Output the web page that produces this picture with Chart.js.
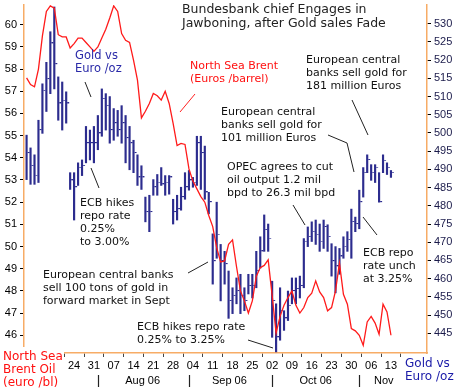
<!DOCTYPE html>
<html><head><meta charset="utf-8">
<script src="https://cdn.jsdelivr.net/npm/chart.js@4"></script>
<style>html,body{margin:0;padding:0;background:#fff}</style>
</head><body>
<canvas id="c" width="464" height="391" style="display:block"></canvas>
<script>
// ---- data ----
const firstDay = -12; // trading-day index of first bar (0 = Mon 24 Jul 2006)
const goldHigh = [499.4,495.9,494.0,503.5,513.5,519.4,527.8,534.6,515.4,514.0,511.3,489.1,
 489.1,491.8,492.6,501.8,500.8,501.8,504.8,512.1,510.8,510.0,506.7,506.2,507.5,504.8,501.8,498.0,494.0,491.0,
 482.4,482.9,487.2,488.6,490.5,488.3,488.3,481.8,482.9,485.1,489.1,489.7,487.8,499.1,499.1,496.4,483.7,
 472.3,481.0,469.4,467.5,462.1,457.5,460.2,461.2,457.5,461.2,461.2,467.5,471.5,477.5,475.0,
 459.3,453.1,457.5,451.2,456.6,460.2,460.2,460.7,471.0,474.2,475.6,476.1,475.0,476.1,474.8,
 469.6,468.8,468.3,471.5,472.9,479.1,476.9,484.3,490.5,494.0,491.3,491.3,489.1,494.0,491.8,489.7];
const goldLow = [487.2,485.9,485.9,486.4,499.9,505.9,510.8,512.1,503.5,500.8,502.7,484.5,
 476.1,485.6,488.3,491.8,492.6,491.8,495.4,499.1,500.8,497.2,498.0,499.1,497.2,491.8,489.9,489.1,485.6,484.5,
 475.6,472.9,482.9,482.9,485.6,482.9,483.2,475.0,476.1,478.8,481.8,484.3,485.1,485.6,484.5,481.8,477.8,
 458.5,465.6,453.9,458.5,449.1,450.4,453.1,450.4,451.2,455.8,454.7,457.5,462.9,467.5,467.5,
 443.9,439.9,443.1,445.8,448.5,453.1,453.1,454.7,457.5,468.8,470.2,469.4,467.5,468.3,467.5,
 460.7,456.1,461.2,465.6,467.5,465.6,472.9,473.7,482.4,489.1,487.0,486.4,481.0,489.1,488.6,487.8];
const goldClose = [494.5,491.0,488.3,500.8,511.6,514.8,524.6,518.9,508.1,508.9,508.1,487.0,
 485.1,490.5,491.0,497.2,497.2,497.2,499.9,509.4,507.5,500.8,502.7,500.8,502.7,498.6,497.2,494.5,487.8,487.8,
 478.3,478.3,485.1,486.4,485.9,486.4,487.8,478.3,479.1,482.4,485.1,487.0,486.4,497.2,494.5,483.7,481.0,
 464.8,472.1,464.8,464.0,453.9,455.3,456.6,455.3,453.9,458.0,458.0,462.1,467.5,473.4,471.0,
 453.9,443.9,451.2,449.1,452.6,456.6,457.2,458.0,470.2,471.5,472.9,472.1,470.2,474.2,471.5,
 464.8,463.4,466.1,468.8,470.7,475.6,475.0,481.0,489.1,492.6,489.1,490.5,481.0,492.4,490.5,489.1];
const brent = [57.6,57.3,57.2,58.0,59.5,60.6,60.85,60.75,59.55,59.45,59.45,58.95,
 59.15,59.4,59.4,59.2,59.0,58.8,59.0,59.4,59.8,60.3,60.85,60.6,59.6,59.3,59.2,58.4,57.5,55.8,
 56.1,56.45,56.9,56.8,56.6,57.0,56.45,55.55,54.55,54.65,54.6,53.5,52.95,52.6,52.25,52.0,51.4,
 50.9,49.95,49.3,49.35,50.1,50.3,49.1,48.0,47.55,47.0,47.55,48.65,49.05,49.15,49.4,
 47.8,46.1,46.85,47.35,47.7,48.0,47.35,47.0,47.25,47.7,47.9,48.45,47.95,47.7,47.1,
 47.25,48.0,49.25,47.85,47.4,46.3,46.2,46.0,45.55,46.6,46.85,46.55,46.05,47.4,47.05,46.0];
const weekIdx = [0,5,10,15,20,25,30,35,40,45,50,55,60,65,70,75,80];
const weekLabels = ['24','31','07','14','21','28','04','11','18','25','02','09','16','23','30','06','13'];
const monthNames = ['Aug 06','Sep 06','Oct 06','Nov'];
const monthStart = [6,29,50,72];
const monthMid = [17.3,39.2,61,78.2];
const leftTicks = [46,47,48,49,50,51,52,53,54,55,56,57,58,59,60];
const rightTicks = [445,450,455,460,465,470,475,480,485,490,495,500,505,510,515,520,525,530];

// ---- build ----
const days = goldHigh.map((_, k) => firstDay + k);
const barData = days.map((d, k) => ({x: d, y: [goldLow[k], goldHigh[k]]}));
const closeData = days.map((d, k) => ({x: d, y: goldClose[k]}));
const brentData = days.map((d, k) => ({x: d, y: brent[k]}));

const BLUE = '#2c2c8e';
const ORANGE = '#f7ac66';
const tickImg = document.createElement('canvas');
tickImg.width = 8; tickImg.height = 2;
(function(){const c = tickImg.getContext('2d'); c.fillStyle = BLUE; c.fillRect(5,0,2,1);})();

function zeroPad(s){ s.paddingTop=0; s.paddingBottom=0; s.paddingLeft=0; s.paddingRight=0; }

const annot = {
  id: 'annot',
  afterDraw(chart) {
    const ctx = chart.ctx, xs = chart.scales.x;
    ctx.save();
    ctx.fillStyle = '#fff';
    ctx.fillRect(0, 347, 64, 44);
    ctx.strokeStyle = '#222'; ctx.lineWidth = 1.2;
    monthStart.forEach(m => {
      const px = Math.round(xs.getPixelForValue(m)) + 0.5;
      ctx.beginPath(); ctx.moveTo(px, 375); ctx.lineTo(px, 387); ctx.stroke();
    });
    ctx.fillStyle = '#000'; ctx.font = '11px "Liberation Sans"';
    ctx.textAlign = 'center'; ctx.textBaseline = 'middle';
    monthNames.forEach((n, k) => ctx.fillText(n, xs.getPixelForValue(monthMid[k]), 381));
    ctx.textAlign = 'left';
    const blocks = [
      [['Bundesbank chief Engages in','Jawboning, after Gold sales Fade'], 182, 10, 14, '#222', '12.5px "DejaVu Sans"'],
      [['Gold vs','Euro /oz'], 75, 56, 13.5, '#2a2aa8', '11.5px "DejaVu Sans"'],
      [['North Sea Brent','(Euros /barrel)'], 190, 66, 13.5, '#ff1010', '11px "DejaVu Sans"'],
      [['European central','banks sell gold for','181 million Euros'], 306, 60, 13, '#111', '11px "DejaVu Sans"'],
      [['European central','banks sell gold for','101 million Euros'], 221, 112, 13, '#111', '11px "DejaVu Sans"'],
      [['OPEC agrees to cut','oil output 1.2 mil','bpd to 26.3 mil bpd'], 227, 167, 13, '#111', '11px "DejaVu Sans"'],
      [['ECB hikes','repo rate','0.25%','to 3.00%'], 80, 203, 13, '#111', '11px "DejaVu Sans"'],
      [['European central banks','sell 100 tons of gold in','forward market in Sept'], 43, 275, 13, '#111', '11px "DejaVu Sans"'],
      [['ECB hikes repo rate','0.25% to 3.25%'], 137, 327, 13, '#111', '11px "DejaVu Sans"'],
      [['ECB repo','rate unch','at 3.25%'], 363, 253, 13, '#111', '11px "DejaVu Sans"'],
      [['North Sea','Brent Oil','(euro /bl)'], 3, 357, 13, '#ff1010', '12px "DejaVu Sans"'],
      [['Gold vs','Euro /oz'], 405, 364, 13, '#1a1aa8', '12px "DejaVu Sans"']
    ];
    blocks.forEach(([lines, x, y, lh, col, font]) => {
      ctx.fillStyle = col; ctx.font = font;
      lines.forEach((t, i) => ctx.fillText(t, x, y + i * lh));
    });
    const leaders = [
      [[[85,82],[91,97]], '#222'],
      [[[195,94],[180,112]], '#ff2020'],
      [[[352,100],[368,135]], '#222'],
      [[[328,135],[347,143],[354,172]], '#222'],
      [[[293,205],[305,225]], '#222'],
      [[[91,168],[99,188]], '#222'],
      [[[188,273],[208,262]], '#222'],
      [[[248,340],[273,348]], '#222'],
      [[[363,217],[377,235]], '#222']
    ];
    ctx.lineWidth = 1;
    leaders.forEach(([pts, col]) => {
      ctx.strokeStyle = col; ctx.beginPath();
      pts.forEach((p, i) => i ? ctx.lineTo(p[0], p[1]) : ctx.moveTo(p[0], p[1]));
      ctx.stroke();
    });
    ctx.restore();
  }
};

new Chart(document.getElementById('c'), {
  type: 'bar',
  data: {
    datasets: [
      {type: 'line', label: 'Brent', data: brentData, yAxisID: 'yL', borderColor: '#ff1a1a',
       borderWidth: 1.3, pointRadius: 0, tension: 0, order: 0},
      {type: 'bar', label: 'Gold range', data: barData, yAxisID: 'yR', backgroundColor: BLUE,
       barThickness: 1.5, maxBarThickness: 1.5, borderWidth: 0, order: 1},
      {type: 'line', label: 'Gold close', data: closeData, yAxisID: 'yR', showLine: false,
       pointStyle: tickImg, pointRadius: 3, order: 1}
    ]
  },
  options: {
    responsive: false, animation: false, devicePixelRatio: 1,
    layout: {padding: 0},
    plugins: {legend: {display: false}, tooltip: {enabled: false}},
    scales: {
      x: {type: 'linear', position: 'bottom', min: -12.65, max: 89.1, offset: false,
        border: {color: ORANGE, width: 1.5},
        grid: {drawOnChartArea: false, drawTicks: true, tickLength: 4, color: '#444'},
        ticks: {autoSkip: false, maxRotation: 0, padding: 2, color: '#000',
          font: {family: 'Liberation Sans', size: 11},
          callback: v => { const k = weekIdx.indexOf(v); return k >= 0 ? weekLabels[k] : ''; }},
        afterBuildTicks: s => { s.ticks = weekIdx.map(v => ({value: v})); },
        afterFit: s => { s.height = 38; zeroPad(s); }
      },
      yL: {type: 'linear', position: 'left', min: 45.2, max: 60.889,
        border: {color: ORANGE, width: 1.5},
        grid: {drawOnChartArea: false, drawTicks: true, tickLength: 4, color: '#000'},
        ticks: {padding: 3, color: '#000', font: {family: 'Liberation Sans', size: 11}},
        afterBuildTicks: s => { s.ticks = leftTicks.map(v => ({value: v})); },
        afterFit: s => { s.width = 24; zeroPad(s); }
      },
      yR: {type: 'linear', position: 'right', min: 439.59, max: 535.14,
        border: {color: ORANGE, width: 1.5},
        grid: {drawOnChartArea: false, drawTicks: true, tickLength: 4, color: '#000'},
        ticks: {padding: 3, color: '#1a1a4a', font: {family: 'Liberation Sans', size: 11}},
        afterBuildTicks: s => { s.ticks = rightTicks.map(v => ({value: v})); },
        afterFit: s => { s.width = 37; zeroPad(s); }
      }
    }
  },
  plugins: [annot]
});
</script>
</body></html>
